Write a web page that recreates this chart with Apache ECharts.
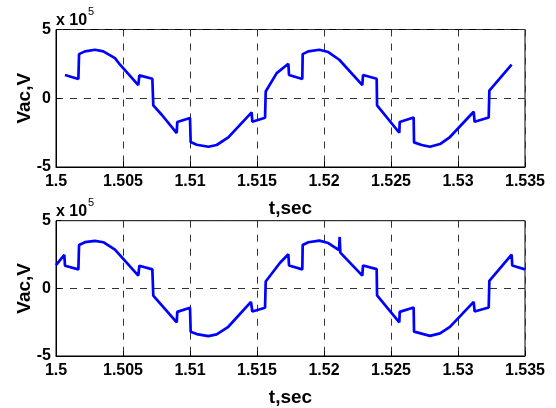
<!DOCTYPE html>
<html>
<head>
<meta charset="utf-8">
<script src="https://cdn.jsdelivr.net/npm/echarts@6/dist/echarts.min.js"></script>
<style>
html,body{margin:0;padding:0;background:#fff;}
#c{width:556px;height:408px;}
</style>
</head>
<body>
<div id="c"></div>
<script>
// Time (s) and voltage (x 1e5 V)
const tTop = [1.50067,1.50167,1.50172,1.50216,1.50291,1.50353,1.5044,1.50478,1.50614,1.50622,1.50719,1.50726,1.50789,1.50901,1.50905,1.5100,1.51005,1.5105,1.51137,1.51199,1.51286,1.5146,1.51465,1.5156,1.51565,1.51647,1.51734,1.51739,1.51838,1.51841,1.51883,1.51965,1.52032,1.52114,1.52286,1.52291,1.52393,1.52396,1.52562,1.52565,1.52669,1.52672,1.52729,1.52791,1.52866,1.5294,1.53117,1.53124,1.53229,1.53234,1.534];
const vTop = [1.69,1.40,3.21,3.41,3.53,3.41,2.92,2.44,0.96,1.66,1.42,-0.52,-1.2,-2.53,-1.73,-1.44,-3.19,-3.38,-3.53,-3.40,-2.85,-1.03,-1.71,-1.42,0.49,1.83,2.51,1.69,1.40,3.21,3.41,3.53,3.36,2.80,0.96,1.69,1.42,-0.52,-2.51,-1.73,-1.40,-3.21,-3.40,-3.53,-3.33,-2.82,-0.98,-1.71,-1.40,0.55,2.44];

const tBot = [1.5,1.50062,1.50067,1.50167,1.50172,1.50216,1.50291,1.50353,1.5044,1.50614,1.50622,1.50719,1.50726,1.50901,1.50905,1.5100,1.51005,1.5105,1.51137,1.51199,1.51286,1.51455,1.51465,1.5156,1.51565,1.51672,1.51734,1.51739,1.51838,1.51841,1.51883,1.51965,1.52032,1.52112,1.52117,1.52122,1.52286,1.52291,1.52393,1.52396,1.52562,1.52565,1.52669,1.52672,1.52791,1.52866,1.5294,1.53117,1.53124,1.53229,1.53234,1.534,1.53405,1.535];
const vBot = [1.72,2.47,1.67,1.40,3.20,3.41,3.51,3.41,2.86,0.94,1.67,1.40,-0.54,-2.52,-1.74,-1.43,-3.20,-3.38,-3.53,-3.40,-2.84,-1.00,-1.71,-1.43,0.51,1.89,2.52,1.69,1.40,3.20,3.41,3.53,3.35,2.82,3.80,2.64,0.94,1.69,1.42,-0.52,-2.51,-1.74,-1.42,-3.20,-3.51,-3.33,-2.85,-1.00,-1.71,-1.42,0.55,2.49,1.69,1.40];

const xTickLabels = ['1.5','1.505','1.51','1.515','1.52','1.525','1.53','1.535'];
const yTickLabels = ['-5','0','5'];
const xName = 't,sec';
const yName = 'Vac,V';
const scaleText = 'x 10';
const scaleExp = '5';

const FONT = 'Liberation Sans, Arial, sans-serif';
const pair = (t, v) => t.map((x, i) => [x, v[i]]);

function xAxis(gi) {
  return {
    type: 'value', gridIndex: gi, min: 1.5, max: 1.535, interval: 0.005,
    name: xName, nameLocation: 'middle', nameGap: 32, nameMoveOverlap: false,
    nameTextStyle: {color: '#000', fontFamily: FONT, fontWeight: 'bold', fontSize: 19},
    axisLine: {show: true, onZero: false, lineStyle: {color: '#000', width: 1}},
    axisTick: {show: true, inside: true, length: 5, lineStyle: {color: '#000'}},
    axisLabel: {color: '#000', fontFamily: FONT, fontWeight: 'bold', fontSize: 16, margin: 7,
      formatter: v => xTickLabels[Math.round((v - 1.5) / 0.005)]},
    splitLine: {show: true, lineStyle: {color: '#333', type: [7, 7], width: 1}}
  };
}
function yAxis(gi) {
  return {
    type: 'value', gridIndex: gi, min: -5, max: 5, interval: 5,
    name: yName, nameLocation: 'middle', nameGap: 22, nameMoveOverlap: false,
    nameTextStyle: {color: '#000', fontFamily: FONT, fontWeight: 'bold', fontSize: 19},
    axisLine: {show: true, onZero: false, lineStyle: {color: '#000', width: 1}},
    axisTick: {show: true, inside: true, length: 5, lineStyle: {color: '#000'}},
    axisLabel: {color: '#000', fontFamily: FONT, fontWeight: 'bold', fontSize: 16, margin: 5,
      formatter: v => yTickLabels[Math.round(v / 5) + 1]},
    splitLine: {show: true, lineStyle: {color: '#333', type: [7, 7], width: 1}}
  };
}
function scaleLabel(cy) {
  return [
    {type: 'text', x: 56, y: cy, style: {text: scaleText, fontFamily: FONT, fontWeight: 'bold', fontSize: 16, fill: '#000', verticalAlign: 'middle', align: 'left'}},
    {type: 'text', x: 88, y: cy - 9, style: {text: scaleExp, fontFamily: FONT, fontSize: 11, fill: '#000', verticalAlign: 'middle', align: 'left'}}
  ];
}

const chart = echarts.init(document.getElementById('c'), null, {renderer: 'canvas'});
chart.setOption({
  animation: false,
  backgroundColor: '#fff',
  grid: [
    {left: 56, top: 29.5, width: 469, height: 137.5, show: true, borderColor: '#000', borderWidth: 1, backgroundColor: '#fff'},
    {left: 56, top: 220.7, width: 469, height: 137.6, show: true, borderColor: '#000', borderWidth: 1, backgroundColor: '#fff'}
  ],
  xAxis: [xAxis(0), xAxis(1)],
  yAxis: [yAxis(0), yAxis(1)],
  graphic: scaleLabel(21).concat(scaleLabel(212)),
  series: [
    {type: 'line', xAxisIndex: 0, yAxisIndex: 0, data: pair(tTop, vTop), showSymbol: false, lineStyle: {color: '#0000ff', width: 2.7}, itemStyle: {color: '#0000ff'}},
    {type: 'line', xAxisIndex: 1, yAxisIndex: 1, data: pair(tBot, vBot), showSymbol: false, lineStyle: {color: '#0000ff', width: 2.7}, itemStyle: {color: '#0000ff'}}
  ]
});
</script>
</body>
</html>
